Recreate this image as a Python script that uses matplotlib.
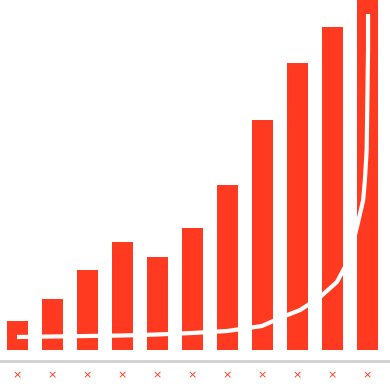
import numpy as np
import matplotlib.pyplot as plt

# bar values
cats = list(range(11))
bar_vals = [29, 51, 80, 108, 93, 122, 165, 230, 287, 323, 380]
tick_labels = ['×'] * 11

# white curve drawn over the bars
curve_x = [0, 1, 2, 3, 4, 5, 6, 7, 7.51, 8.09, 8.66, 9.14, 9.37, 9.57, 9.74, 9.89, 9.94, 9.99, 10.01, 10.03, 10.03]
curve_y = [13, 13.5, 14, 14.5, 15.5, 17, 19, 24, 32, 40, 53, 68, 83, 103, 127, 150, 170, 200, 250, 300, 336]

red = '#ff3a20'

fig = plt.figure(figsize=(3.9, 3.9), dpi=100)
ax = fig.add_axes([0, 29/390, 1, 361/390])
ax.bar(cats, bar_vals, width=0.6, color=red, zorder=2)
ax.plot(curve_x, curve_y, color='white', lw=3, solid_capstyle='butt',
        solid_joinstyle='round', zorder=3)

ax.set_xlim(-0.486, 10.657)
ax.set_ylim(-11, 350)
ax.set_xticks(cats)
ax.set_xticklabels(tick_labels, color=red, fontsize=8)
ax.tick_params(axis='x', length=0, pad=7)
ax.set_yticks([])
for s in ['top', 'left', 'right']:
    ax.spines[s].set_visible(False)
ax.spines['bottom'].set_color('#d0d0d0')
ax.spines['bottom'].set_linewidth(2)

fig.savefig('out.png', dpi=100)
